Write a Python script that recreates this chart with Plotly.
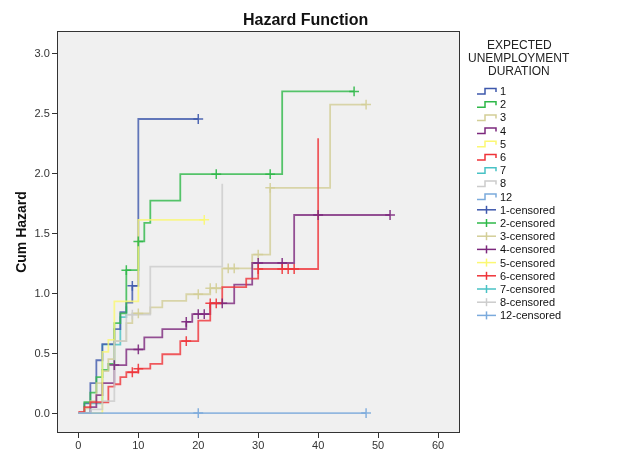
import plotly.graph_objects as go

# Cumulative hazard step functions by expected unemployment duration group.
# Each group: event times, cumulative hazard after each event, censoring times.
g1_time = [0, 1, 2, 3, 4, 6, 7, 8, 9, 10]
g1_haz = [0.0, 0.08, 0.25, 0.44, 0.575, 0.70, 0.84, 0.92, 1.06, 2.45]
g1_cens = [9, 20]

g2_time = [0, 1, 2, 3, 4, 5, 6, 7, 8, 10, 11, 12, 17, 34]
g2_haz = [0.0, 0.09, 0.17, 0.30, 0.36, 0.41, 0.75, 0.83, 1.19, 1.43, 1.585, 1.77, 1.99, 2.68]
g2_cens = [8, 10, 23, 32, 46]

g3_time = [0, 1, 2, 3, 4, 5, 6, 8, 9, 12, 14, 18, 22, 24, 29, 32, 42]
g3_haz = [0.0, 0.04, 0.10, 0.25, 0.35, 0.45, 0.60, 0.75, 0.83, 0.88, 0.935, 0.99,
          1.04, 1.205, 1.32, 1.877, 2.57]
g3_cens = [10, 20, 22, 23, 25, 26, 30, 32, 48]

g4_time = [0, 2, 3, 4, 6, 8, 11, 14, 18, 19, 22, 26, 29, 36]
g4_haz = [0.0, 0.05, 0.15, 0.25, 0.40, 0.53, 0.63, 0.70, 0.76, 0.825, 0.914,
          1.07, 1.25, 1.65]
g4_cens = [6, 10, 18, 20, 21, 24, 30, 34, 40, 52]

g5_time = [0, 4, 5, 6, 10]
g5_haz = [0.0, 0.51, 0.61, 0.93, 1.61]
g5_cens = [21]

g6_time = [0, 1, 2, 5, 6, 7, 8, 10, 12, 14, 17, 20, 22, 24, 28, 30, 40]
g6_haz = [0.01, 0.05, 0.09, 0.22, 0.24, 0.30, 0.34, 0.37, 0.41, 0.49, 0.60,
          0.77, 0.914, 1.05, 1.12, 1.20, 2.29]
g6_cens = [9, 10, 18, 22, 23, 30, 34, 35, 36]

g7_time = [0, 2, 4, 7, 8]
g7_haz = [0.0, 0.08, 0.57, 0.80, 0.89]
g7_cens = []

g8_time = [0, 2, 4, 6, 8, 12, 24]
g8_haz = [0.0, 0.03, 0.10, 0.60, 0.82, 1.22, 1.91]
g8_cens = [9]

g12_time = [0]
g12_haz = [0.0]
g12_cens = [20, 48]

group_labels = ["1", "2", "3", "4", "5", "6", "7", "8", "12"]
group_colors = ["#3E58AC", "#2EB848", "#D3CE97", "#7C287D", "#FBF873",
                "#EF3338", "#48C2C5", "#CCCCCC", "#7BAADC"]

x_ticks = [0, 10, 20, 30, 40, 50, 60]
y_ticks = [0.0, 0.5, 1.0, 1.5, 2.0, 2.5, 3.0]

groups = [
    (g1_time, g1_haz, g1_cens), (g2_time, g2_haz, g2_cens),
    (g3_time, g3_haz, g3_cens), (g4_time, g4_haz, g4_cens),
    (g5_time, g5_haz, g5_cens), (g6_time, g6_haz, g6_cens),
    (g7_time, g7_haz, g7_cens), (g8_time, g8_haz, g8_cens),
    (g12_time, g12_haz, g12_cens),
]

# Group 7 runs mostly underneath group 1, so it is drawn first
draw_order = [6, 0, 1, 2, 3, 4, 5, 7, 8]


def hazard_at(times, haz, t):
    value = haz[0]
    for ti, hi in zip(times, haz):
        if ti <= t:
            value = hi
    return value


fig = go.Figure()

for k in draw_order:
    times, haz, cens = groups[k]
    xs = list(times)
    ys = list(haz)
    if cens and max(cens) > xs[-1]:
        xs.append(max(cens))
        ys.append(ys[-1])
    fig.add_trace(go.Scatter(
        x=xs, y=ys, mode="lines",
        line=dict(color=group_colors[k], width=1.8, shape="hv"),
        opacity=0.8, name=group_labels[k], showlegend=False, hoverinfo="skip"))

for (times, haz, cens), label, color in zip(groups, group_labels, group_colors):
    if not cens:
        continue
    fig.add_trace(go.Scatter(
        x=cens, y=[hazard_at(times, haz, c) for c in cens], mode="markers",
        marker=dict(symbol="cross-thin", size=7,
                    line=dict(color=color, width=1.5)),
        opacity=0.9, name=label + "-censored", showlegend=False, hoverinfo="skip"))

# Plot area geometry in pixels (figure 631 x 450)
L, R, T, B = 58, 459, 32, 432
W, H = 631, 450


def px_x(px):
    return (px - L) / (R - L)


def px_y(py):
    return (B - py) / (B - T)


shapes = []
annotations = []
font_family = "Arial, Liberation Sans"

# Legend block
leg_x0, leg_x1, text_x = 477, 496, 498
row0, row_gap = 91, 13.2
legend_rows = [(lab, col, "step") for lab, col in zip(group_labels, group_colors)]
legend_rows += [(lab + "-censored", col, "cens") for lab, col in zip(group_labels, group_colors)]
for i, (text, color, kind) in enumerate(legend_rows):
    yc = row0 + i * row_gap
    if kind == "step":
        pts = [(leg_x0, yc + 3), (leg_x0 + 8, yc + 3), (leg_x0 + 8, yc - 2.5),
               (leg_x1, yc - 2.5), (leg_x1, yc + 1)]
        path = "M " + " L ".join(f"{px_x(a):.5f},{px_y(b):.5f}" for a, b in pts)
        shapes.append(dict(type="path", path=path, xref="paper", yref="paper",
                           line=dict(color=color, width=1.5)))
    else:
        shapes.append(dict(type="line", xref="paper", yref="paper",
                           x0=px_x(leg_x0), x1=px_x(leg_x1), y0=px_y(yc), y1=px_y(yc),
                           line=dict(color=color, width=1.5)))
        xm = (leg_x0 + leg_x1) / 2
        shapes.append(dict(type="line", xref="paper", yref="paper",
                           x0=px_x(xm), x1=px_x(xm), y0=px_y(yc - 4), y1=px_y(yc + 4),
                           line=dict(color=color, width=1.5)))
    annotations.append(dict(x=px_x(text_x), y=px_y(yc), xref="paper", yref="paper",
                            text=text, showarrow=False, xanchor="left", yanchor="middle",
                            font=dict(family=font_family, size=11, color="#111")))

# Legend heading, one line per annotation for tight spacing
for line, yc in zip(["EXPECTED", "UNEMPLOYMENT", "DURATION"], [45, 58, 71]):
    annotations.append(dict(x=px_x(519), y=px_y(yc), xref="paper", yref="paper",
                            text=line, showarrow=False,
                            xanchor="center", yanchor="middle",
                            font=dict(family=font_family, size=12, color="#222")))

annotations.append(dict(x=px_x(305), y=px_y(20), xref="paper", yref="paper",
                        text="<b>Hazard Function</b>", showarrow=False,
                        xanchor="center", yanchor="middle",
                        font=dict(family=font_family, size=16, color="#111")))

axis_common = dict(showgrid=False, zeroline=False, showline=True, mirror=True,
                   linecolor="#333", linewidth=1, ticks="outside", ticklen=5,
                   tickcolor="#333", automargin=False,
                   tickfont=dict(family=font_family, size=11, color="#333"))

fig.update_layout(
    width=W, height=H,
    margin=dict(l=L, r=W - R, t=T, b=H - B, pad=0),
    paper_bgcolor="white", plot_bgcolor="#F0F0F0",
    shapes=shapes, annotations=annotations, showlegend=False,
    xaxis=dict(range=[-3.4, 63.5], tickvals=x_ticks, ticklabelstandoff=-2,
               ticktext=[str(v) for v in x_ticks], **axis_common),
    yaxis=dict(range=[-0.158, 3.175], tickvals=y_ticks,
               ticktext=[f"{v:.1f}" for v in y_ticks],
               title=dict(text="<b>Cum Hazard</b>", standoff=4,
                          font=dict(family=font_family, size=14, color="#111")),
               **axis_common),
)

fig.write_html("out.html")
